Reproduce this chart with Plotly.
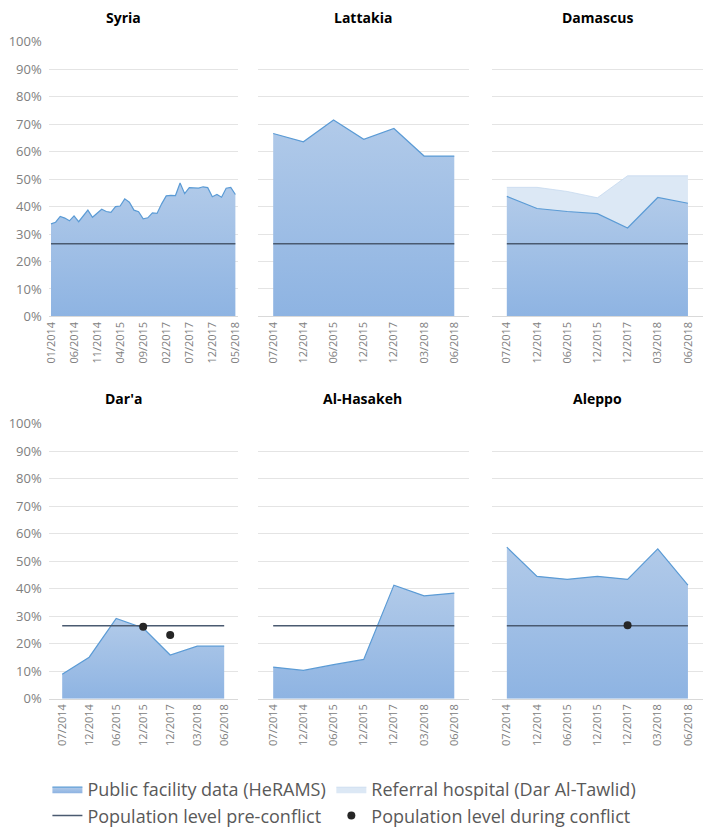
import plotly.graph_objects as go

# ---------------- data ----------------
syria_months = [
    "01/2014", "02/2014", "03/2014", "04/2014", "05/2014", "06/2014", "07/2014", "08/2014",
    "09/2014", "10/2014", "11/2014", "12/2014", "01/2015", "02/2015", "03/2015", "04/2015",
    "05/2015", "06/2015", "07/2015", "08/2015", "09/2015", "10/2015", "11/2015", "12/2015",
    "01/2017", "02/2017", "03/2017", "04/2017", "05/2017", "06/2017", "07/2017", "08/2017",
    "09/2017", "10/2017", "11/2017", "12/2017", "01/2018", "02/2018", "03/2018", "04/2018",
    "05/2018",
]
syria_heRAMS = [
    0.337, 0.343, 0.364, 0.358, 0.348, 0.366, 0.345, 0.366, 0.387, 0.361,
    0.375, 0.390, 0.382, 0.379, 0.400, 0.402, 0.428, 0.416, 0.387, 0.381,
    0.355, 0.359, 0.377, 0.375, 0.410, 0.439, 0.441, 0.440, 0.486, 0.447,
    0.469, 0.467, 0.467, 0.472, 0.469, 0.436, 0.444, 0.434, 0.467, 0.470,
    0.444,
]

region_periods = ["07/2014", "12/2014", "06/2015", "12/2015", "12/2017", "03/2018", "06/2018"]

lattakia_heRAMS = [0.666, 0.636, 0.715, 0.645, 0.684, 0.584, 0.584]
damascus_heRAMS = [0.437, 0.393, 0.382, 0.374, 0.322, 0.433, 0.412]
damascus_referral = [0.470, 0.470, 0.455, 0.432, 0.512, 0.512, 0.512]
daraa_heRAMS = [0.089, 0.151, 0.292, 0.257, 0.159, 0.191, 0.191]
hasakeh_heRAMS = [0.115, 0.103, 0.124, 0.143, 0.413, 0.374, 0.384]
aleppo_heRAMS = [0.551, 0.445, 0.434, 0.445, 0.434, 0.545, 0.413]

pre_conflict_level = 0.265

daraa_during_periods = ["12/2015", "12/2017"]
daraa_during_values = [0.262, 0.232]
aleppo_during_periods = ["12/2017"]
aleppo_during_values = [0.267]

panel_titles = ["Syria", "Lattakia", "Damascus", "Dar'a", "Al-Hasakeh", "Aleppo"]

# ---------------- styling ----------------
W, H = 709, 834
FONT = "Open Sans"
AREA_LINE = "#5b9bd5"
GRAD = [[0, "#8db3e2"], [1, "#b1cae9"]]
REF_FILL = "#dce8f5"
REF_LINE = "#c6d9ef"
HLINE = "#4a5a70"
GRID = "#e4e4e4"
TICKC = "#808080"


def fx(px):
    return px / W


def fy(py):
    return 1 - py / H


# plot-area rectangles in pixels
cols = [(43.3, 235.0), (255.7, 470.0), (492.7, 707.0)]
rows = [(33.0, 315.0), (424.3, 706.7)]
title_x = [119, 362, 600]
title_y = [9, 399]

panels = [
    dict(cats=syria_months, y=syria_heRAMS, ref=None, dots=None),
    dict(cats=region_periods, y=lattakia_heRAMS, ref=None, dots=None),
    dict(cats=region_periods, y=damascus_heRAMS, ref=damascus_referral, dots=None),
    dict(cats=region_periods, y=daraa_heRAMS, ref=None, dots=(daraa_during_periods, daraa_during_values)),
    dict(cats=region_periods, y=hasakeh_heRAMS, ref=None, dots=None),
    dict(cats=region_periods, y=aleppo_heRAMS, ref=None, dots=(aleppo_during_periods, aleppo_during_values)),
]

fig = go.Figure()
shown = set()


def first(name):
    if name in shown:
        return False
    shown.add(name)
    return True


annotations = []
for i, p in enumerate(panels):
    r, c = divmod(i, 3)
    n = i + 1
    xa = "x" if n == 1 else f"x{n}"
    ya = "y" if n == 1 else f"y{n}"
    x0, x1 = cols[c]
    yt, yb = rows[r]
    fig.layout[f"xaxis{'' if n == 1 else n}"] = dict(
        domain=[fx(x0), fx(x1)],
        anchor=ya,
        type="category",
        categoryorder="array",
        categoryarray=p["cats"],
        range=[-0.5, len(p["cats"]) - 0.5],
        tickmode="array",
        tickvals=p["cats"][::5] if n == 1 else p["cats"],
        tickangle=-90,
        tickfont=dict(family=FONT, size=11, color=TICKC),
        showgrid=False,
        showline=True,
        linecolor="#d9d9d9",
        linewidth=1,
        ticks="",
        zeroline=False,
        fixedrange=True,
    )
    fig.layout[f"yaxis{'' if n == 1 else n}"] = dict(
        domain=[fy(yb), fy(yt)],
        anchor=xa,
        range=[0, 1.002],
        dtick=0.1,
        tick0=0,
        tickformat=".0%",
        showticklabels=(c == 0),
        tickfont=dict(family=FONT, size=13, color=TICKC),
        ticklabelstandoff=6,
        showgrid=True,
        gridcolor=GRID,
        gridwidth=1,
        zeroline=False,
        showline=False,
        ticks="",
        fixedrange=True,
    )

    if p["ref"] is not None:
        fig.add_trace(go.Scatter(
            x=p["cats"], y=p["ref"], xaxis=xa, yaxis=ya,
            mode="lines", fill="tozeroy", fillcolor=REF_FILL,
            line=dict(color=REF_LINE, width=0.8),
            name="Referral hospital (Dar Al-Tawlid)", legend="legend2",
            legendrank=1, showlegend=first("ref"), hoverinfo="skip",
        ))
    fig.add_trace(go.Scatter(
        x=p["cats"], y=p["y"], xaxis=xa, yaxis=ya,
        mode="lines", fill="tozeroy",
        fillgradient=dict(type="vertical", colorscale=GRAD, start=0, stop=max(p["y"])),
        line=dict(color=AREA_LINE, width=1.2),
        name="Public facility data (HeRAMS)", legend="legend",
        legendrank=1, showlegend=first("heRAMS"), hoverinfo="skip",
    ))
    fig.add_trace(go.Scatter(
        x=p["cats"], y=[pre_conflict_level] * len(p["cats"]), xaxis=xa, yaxis=ya,
        mode="lines", line=dict(color=HLINE, width=1.5),
        name="Population level pre-conflict", legend="legend",
        legendrank=2, showlegend=first("pre"), hoverinfo="skip",
    ))
    if p["dots"] is not None:
        fig.add_trace(go.Scatter(
            x=p["dots"][0], y=p["dots"][1], xaxis=xa, yaxis=ya,
            mode="markers", marker=dict(color="#262626", size=8),
            name="Population level during conflict", legend="legend2",
            legendrank=2, showlegend=first("dots"), hoverinfo="skip",
        ))

    annotations.append(dict(
        text=panel_titles[i], xref="paper", yref="paper",
        x=fx(title_x[c]), y=fy(title_y[r]),
        xanchor="center", yanchor="middle", showarrow=False, borderpad=0,
        font=dict(family=FONT, size=14, color="#000000", weight="bold"),
    ))

legend_style = dict(
    orientation="v",
    yanchor="top",
    itemwidth=30,
    font=dict(family=FONT, size=18, color="#595959"),
    traceorder="normal",
    bgcolor="rgba(0,0,0,0)",
    tracegroupgap=0,
)

fig.update_layout(
    width=W, height=H,
    margin=dict(l=0, r=0, t=0, b=0),
    paper_bgcolor="white",
    plot_bgcolor="white",
    annotations=annotations,
    showlegend=True,
    legend=dict(x=fx(42), y=fy(781), xanchor="left", **legend_style),
    legend2=dict(x=fx(330), y=fy(781), xanchor="left", **legend_style),
)

fig.write_html(
    "out.html",
    config={"displayModeBar": False},
    post_script="document.body.style.margin='0';document.body.style.overflow='hidden';",
)
